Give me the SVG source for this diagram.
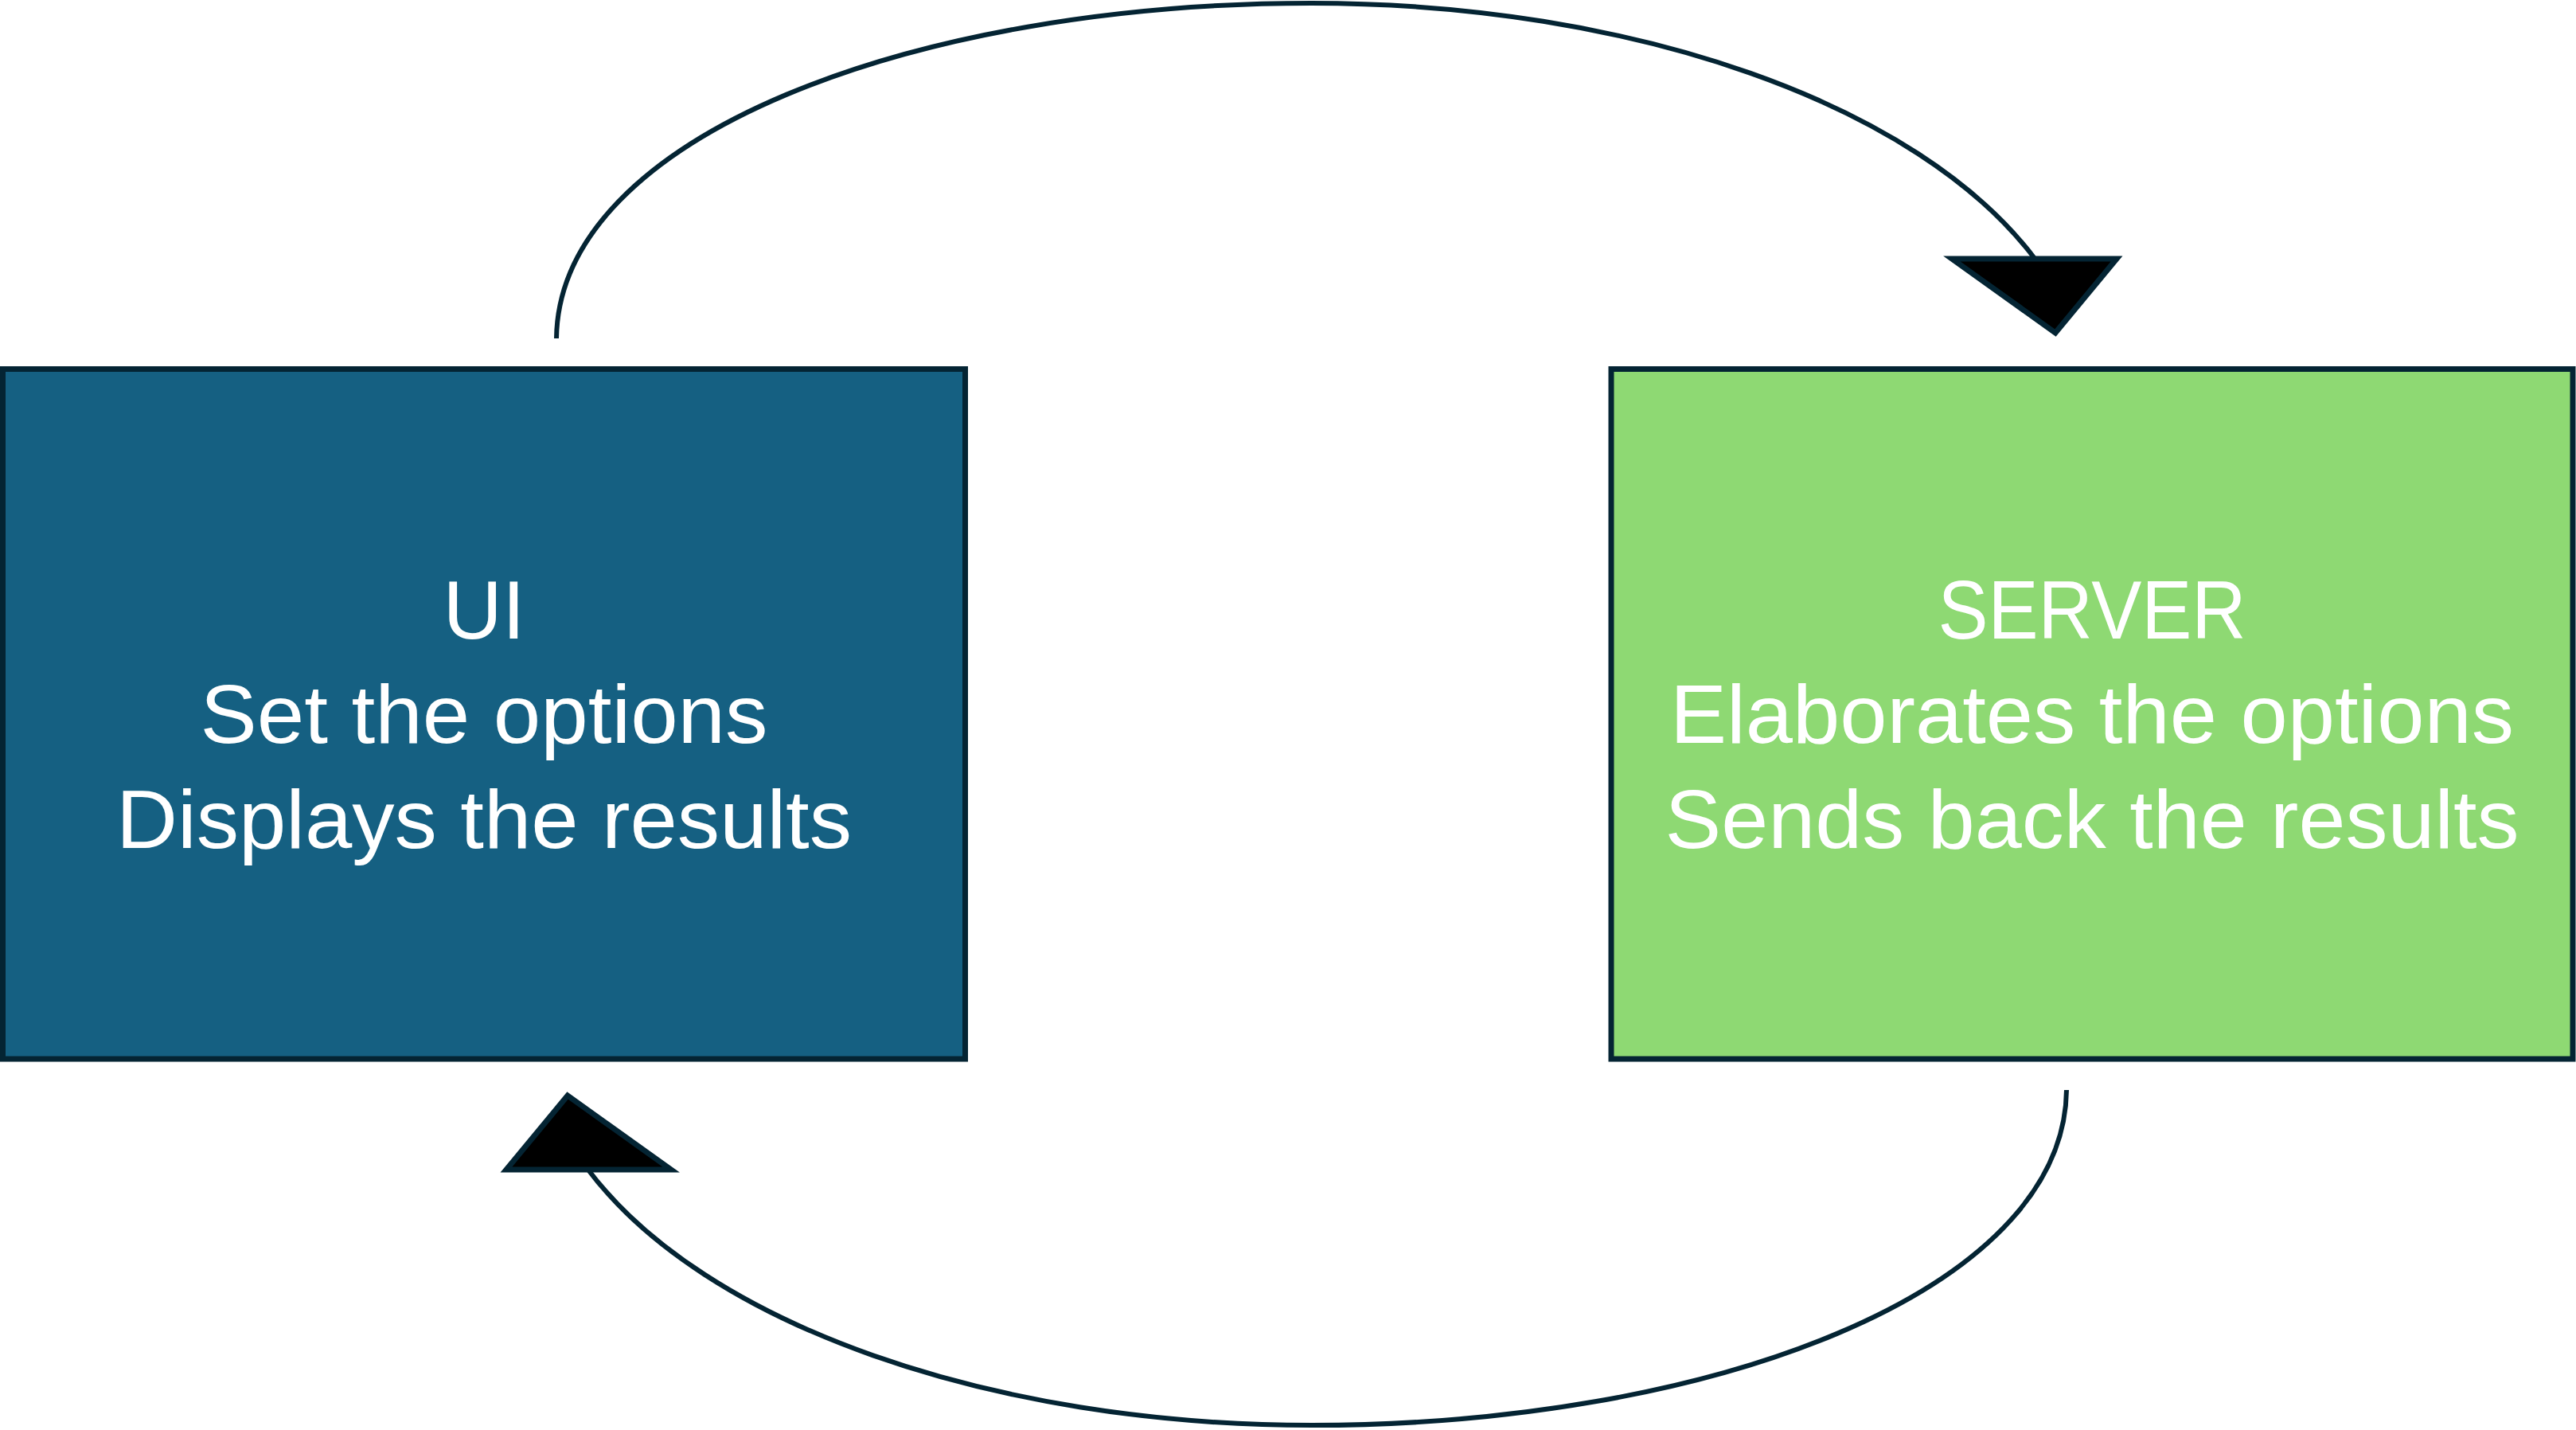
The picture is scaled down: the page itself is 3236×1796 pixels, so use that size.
<svg xmlns="http://www.w3.org/2000/svg" width="3236" height="1796" viewBox="0 0 3236 1796">
  <style>
    .box { stroke: #042433; stroke-width: 7; }
    .ui { fill: #156082; }
    .server { fill: #8ED973; }
    .label { font-family: "Liberation Sans", Arial, sans-serif; font-size: 103px; fill: #FFFFFF; text-anchor: middle; }
    .flow { fill: none; stroke: #042433; stroke-width: 6; }
    .head { fill: #000000; stroke: #042433; stroke-width: 7; stroke-linejoin: miter; stroke-miterlimit: 10; }
  </style>
  <rect width="3236" height="1796" fill="#FFFFFF"/>

  <!-- Nodes -->
  <g id="node-ui">
    <rect class="box ui" x="3.5" y="463.5" width="1209" height="866.5"/>
    <text class="label" x="608" y="801.5">UI</text>
    <text class="label" x="608" y="933" textLength="713" lengthAdjust="spacingAndGlyphs">Set the options</text>
    <text class="label" x="608" y="1065" textLength="924" lengthAdjust="spacingAndGlyphs">Displays the results</text>
  </g>

  <g id="node-server">
    <rect class="box server" x="2024" y="463.5" width="1208" height="866.5"/>
    <text class="label" x="2628" y="801.5" textLength="387" lengthAdjust="spacingAndGlyphs">SERVER</text>
    <text class="label" x="2628" y="933" textLength="1060" lengthAdjust="spacingAndGlyphs">Elaborates the options</text>
    <text class="label" x="2628" y="1065" textLength="1073" lengthAdjust="spacingAndGlyphs">Sends back the results</text>
  </g>

  <!-- Connectors -->
  <g id="connectors">
    <g id="ui-to-server">
      <path class="flow" d="M699,425 C702,170 1150,4 1647,4 C2050,4 2410.6,130.3 2557,326"/>
      <polygon class="head" points="2452,325 2659,325 2582,418"/>
    </g>
    <g id="server-to-ui">
      <path class="flow" d="M2596,1369 C2593,1624 2145,1790 1648,1790 C1245,1790 884.4,1663.7 738,1468"/>
      <polygon class="head" points="843,1469 636,1469 713,1376"/>
    </g>
  </g>
</svg>
